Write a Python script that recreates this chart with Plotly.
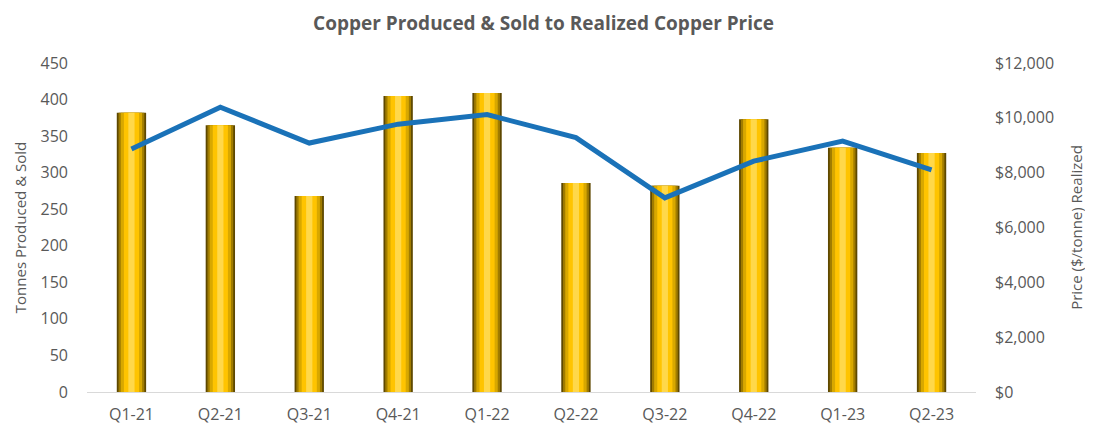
import plotly.graph_objects as go

quarters = ["Q1-21", "Q2-21", "Q3-21", "Q4-21", "Q1-22", "Q2-22", "Q3-22", "Q4-22", "Q1-23", "Q2-23"]
tonnes = [382, 365, 268, 405, 409, 286, 282, 373, 334, 327]
price = [8860, 10390, 9080, 9770, 10120, 9280, 7080, 8420, 9150, 8100]

left_ticks = list(range(0, 451, 50))
right_ticks = list(range(0, 12001, 2000))
right_labels = ["$0", "$2,000", "$4,000", "$6,000", "$8,000", "$10,000", "$12,000"]

FONT = "Open Sans"
GREY = "#595959"

fig = go.Figure()

# Layered bars to mimic the bevelled gold look
layers = [
    (0.33, "#5e4800"),
    (0.29, "#a07c00"),
    (0.24, "#d8a800"),
    (0.17, "#ffc400"),
    (0.07, "#ffd84a"),
]
for w, c in layers:
    fig.add_trace(go.Bar(x=quarters, y=tonnes, width=w, marker=dict(color=c, line=dict(width=0)),
                         showlegend=False, hoverinfo="skip", yaxis="y"))

fig.add_trace(go.Scatter(x=quarters, y=price, mode="lines", yaxis="y2",
                         line=dict(color="#1a72b8", width=5), showlegend=False))

fig.update_layout(
    width=1093, height=437,
    margin=dict(l=76, r=125, t=55, b=53),
    paper_bgcolor="white", plot_bgcolor="white",
    barmode="overlay",
    font=dict(family=FONT, color=GREY, size=14),
    title=dict(text="<b>Copper Produced & Sold to Realized Copper Price</b>",
               x=0.490, xanchor="center", y=0.966, yanchor="middle",
               font=dict(size=19, color=GREY, family=FONT)),
    xaxis=dict(showgrid=False, showline=True, linecolor="#d9d9d9", linewidth=1,
               ticks="", tickfont=dict(size=16, color=GREY), ticklabelstandoff=8),
    yaxis=dict(range=[0, 450], tickvals=left_ticks, showgrid=False, zeroline=False,
               tickfont=dict(size=16, color=GREY), ticklabelstandoff=18,
               title=dict(text="Tonnes Produced & Sold", font=dict(size=15, color=GREY), standoff=10)),
    yaxis2=dict(range=[0, 12000], tickvals=right_ticks, ticktext=right_labels,
                overlaying="y", side="right", showgrid=False, zeroline=False,
                tickfont=dict(size=16, color=GREY), ticklabelstandoff=18,
                title=dict(text="Price ($/tonne) Realized", font=dict(size=15, color=GREY), standoff=18)),
)

fig.write_html("out.html")
